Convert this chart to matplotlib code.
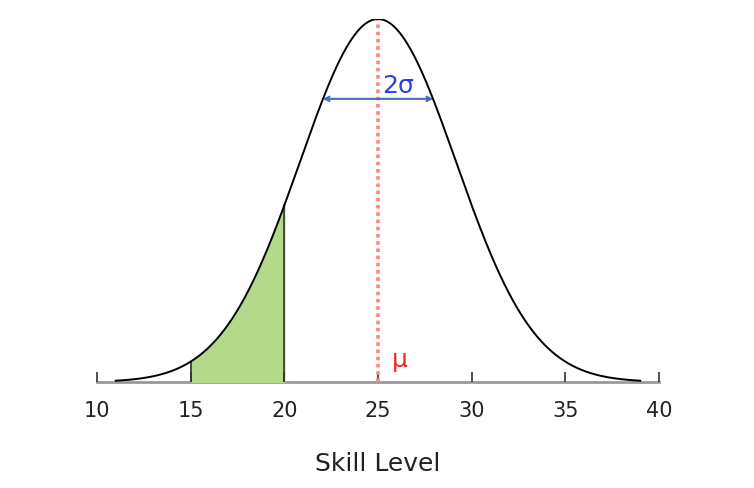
import numpy as np
import matplotlib
matplotlib.use("Agg")
import matplotlib.pyplot as plt

# data
mu = 25.0
sigma = 25.0 / 6.0
curve_range = [11.0, 39.0]
shade_range = [15.0, 20.0]
arrow_x = [22.05, 27.95]
arrow_y = 0.78
xticks = [10, 15, 20, 25, 30, 35, 40]

fig = plt.figure(figsize=(7.54, 4.89), dpi=100)
ax = fig.add_axes([97/754, (489-383)/489, (659-97)/754, (383-20)/489])

x = np.linspace(curve_range[0], curve_range[1], 600)
y = np.exp(-0.5 * ((x - mu) / sigma) ** 2)
ax.plot(x, y, color='black', lw=1.4, zorder=3)

xs = np.linspace(shade_range[0], shade_range[1], 200)
ys = np.exp(-0.5 * ((xs - mu) / sigma) ** 2)
ax.fill_between(xs, 0, ys, color='#b5d98b', zorder=1)
for xv in shade_range:
    yv = np.exp(-0.5 * ((xv - mu) / sigma) ** 2)
    ax.plot([xv, xv], [0, yv], color='#333333', lw=1.2, zorder=2)

ax.plot([mu, mu], [0, 1.0], color='#ff8585', lw=2.6, ls=(0, (1.0, 1.0)), zorder=2)
ax.text(mu + 0.75, 0.03, 'μ', color='#ff2020', fontsize=18, ha='left', va='bottom')

ax.annotate('', xy=(arrow_x[0], arrow_y), xytext=(arrow_x[1], arrow_y),
            arrowprops=dict(arrowstyle='<->', color='#4a6cc0', lw=1.5,
                            shrinkA=0, shrinkB=0, mutation_scale=8), zorder=4)
ax.text(mu + 0.2, arrow_y + 0.005, '2σ', color='#2a3ee8', fontsize=18, ha='left', va='bottom')

ax.set_xlim(10, 40)
ax.set_ylim(0, 1.0)
ax.set_xticks(xticks)
ax.set_xticklabels([str(t) for t in xticks], fontsize=15, color='#222222')
ax.set_yticks([])
for s in ['top', 'right', 'left']:
    ax.spines[s].set_visible(False)
ax.spines['bottom'].set_color('#999999')
ax.spines['bottom'].set_linewidth(2)
ax.spines['bottom'].set_zorder(0)
ax.tick_params(axis='x', direction='in', length=7, width=1.2, color='#333333', pad=13)
ax.set_xlabel('Skill Level', fontsize=18, labelpad=22, color='#222222')

fig.savefig('out.png', dpi=100)
